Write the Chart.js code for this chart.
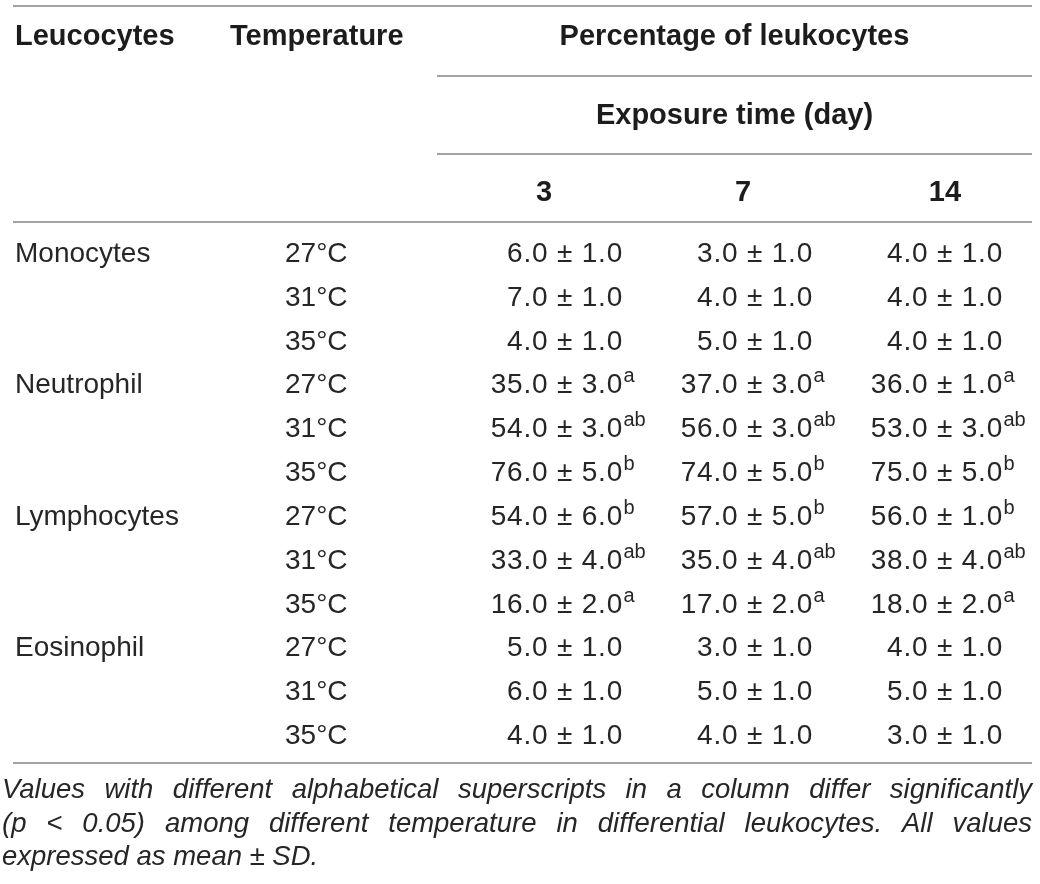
<!DOCTYPE html>
<html>
<head>
<meta charset="utf-8">
<script src="https://cdn.jsdelivr.net/npm/chart.js@4.4.1/dist/chart.umd.min.js"></script>
<style>
  html, body { margin: 0; padding: 0; background: #fff; }
  #wrap { width: 1040px; height: 884px; }
</style>
</head>
<body>
<div id="wrap"><canvas id="leukoTable" width="1040" height="884"></canvas></div>
<script>
// row groups and column categories
const leucocytes = ['Monocytes', 'Neutrophil', 'Lymphocytes', 'Eosinophil'];
const temperatures = ['27°C', '31°C', '35°C'];
const days = ['3', '7', '14'];

// mean percentage, one array per exposure day (rows: cell type x temperature)
const meanDay3  = [6.0, 7.0, 4.0, 35.0, 54.0, 76.0, 54.0, 33.0, 16.0, 5.0, 6.0, 4.0];
const meanDay7  = [3.0, 4.0, 5.0, 37.0, 56.0, 74.0, 57.0, 35.0, 17.0, 3.0, 5.0, 4.0];
const meanDay14 = [4.0, 4.0, 4.0, 36.0, 53.0, 75.0, 56.0, 38.0, 18.0, 4.0, 5.0, 3.0];

// standard deviations
const sdDay3  = [1.0, 1.0, 1.0, 3.0, 3.0, 5.0, 6.0, 4.0, 2.0, 1.0, 1.0, 1.0];
const sdDay7  = [1.0, 1.0, 1.0, 3.0, 3.0, 5.0, 5.0, 4.0, 2.0, 1.0, 1.0, 1.0];
const sdDay14 = [1.0, 1.0, 1.0, 1.0, 3.0, 5.0, 1.0, 4.0, 2.0, 1.0, 1.0, 1.0];

// significance letters
const supDay3  = ['', '', '', 'a', 'ab', 'b', 'b', 'ab', 'a', '', '', ''];
const supDay7  = ['', '', '', 'a', 'ab', 'b', 'b', 'ab', 'a', '', '', ''];
const supDay14 = ['', '', '', 'a', 'ab', 'b', 'b', 'ab', 'a', '', '', ''];

const headLeucocytes = 'Leucocytes';
const headTemperature = 'Temperature';
const headPercentage = 'Percentage of leukocytes';
const headExposure = 'Exposure time (day)';
const footnoteLines = [
    'Values with different alphabetical superscripts in a column differ significantly',
    '(p < 0.05) among different temperature in differential leukocytes. All values',
    'expressed as mean ± SD.'
];

const means = [meanDay3, meanDay7, meanDay14];
const sds = [sdDay3, sdDay7, sdDay14];
const sups = [supDay3, supDay7, supDay14];

const rowKeys = [];
leucocytes.forEach(cell => temperatures.forEach(t => rowKeys.push(cell + ' ' + t)));

// layout / style (not data)
const FONT = '"Liberation Sans", Arial, Helvetica, sans-serif';
const TEXT = '#262626';
const RULE = '#a3a3a3';
const L = {
    groupX: 15, tempX: 285, tempHeadX: 230,
    ruleLeft: 13, subRuleLeft: 437, ruleRight: 1032,
    rulesFull: [6, 222, 763], rulesSub: [76, 154],
    head1Y: 45, head2Y: 124, head3Y: 201,
    dayHeadShift: [-79, -70, -58],
    footLeft: 2, footRight: 1032, footY: [798, 831.5, 865]
};

function drawJustified(ctx, text, left, right, y, justify) {
    ctx.textAlign = 'left';
    if (!justify) { ctx.fillText(text, left, y); return; }
    const words = text.split(' ');
    const widths = words.map(w => ctx.measureText(w).width);
    const total = widths.reduce((a, b) => a + b, 0);
    const gap = (right - left - total) / (words.length - 1);
    let x = left;
    words.forEach((w, i) => { ctx.fillText(w, x, y); x += widths[i] + gap; });
}

const tablePlugin = {
    id: 'tableText',
    afterDraw(chart) {
        const ctx = chart.ctx;
        const xs = chart.scales.x;
        const ys = chart.scales.y;
        ctx.save();

        // rules
        ctx.strokeStyle = RULE;
        ctx.lineWidth = 2;
        L.rulesFull.forEach(y => {
            ctx.beginPath(); ctx.moveTo(L.ruleLeft, y); ctx.lineTo(L.ruleRight, y); ctx.stroke();
        });
        L.rulesSub.forEach(y => {
            ctx.beginPath(); ctx.moveTo(L.subRuleLeft, y); ctx.lineTo(L.ruleRight, y); ctx.stroke();
        });

        // header
        ctx.fillStyle = '#1c1c1c';
        ctx.font = 'bold 29px ' + FONT;
        ctx.textBaseline = 'alphabetic';
        ctx.textAlign = 'left';
        ctx.fillText(headLeucocytes, L.groupX, L.head1Y);
        ctx.fillText(headTemperature, L.tempHeadX, L.head1Y);
        const midX = (L.subRuleLeft + L.ruleRight) / 2;
        ctx.textAlign = 'center';
        ctx.fillText(headPercentage, midX, L.head1Y);
        ctx.fillText(headExposure, midX, L.head2Y);
        days.forEach((d, j) => {
            ctx.fillText(d, xs.getPixelForValue(j) + L.dayHeadShift[j], L.head3Y);
        });

        // row labels
        ctx.fillStyle = TEXT;
        ctx.font = '28px ' + FONT;
        ctx.textAlign = 'left';
        rowKeys.forEach((k, i) => {
            const y = ys.getPixelForValue(i);
            if (i % temperatures.length === 0) {
                ctx.fillText(leucocytes[i / temperatures.length], L.groupX, y);
            }
            ctx.fillText(temperatures[i % temperatures.length], L.tempX, y);
        });

        // cells
        chart.data.datasets.forEach((ds, j) => {
            const meta = chart.getDatasetMeta(j);
            meta.data.forEach((el, i) => {
                const cell = ds.data[i];
                ctx.font = '28px ' + FONT;
                ctx.letterSpacing = '0.8px';
                ctx.textAlign = 'right';
                ctx.fillText(cell.mean.toFixed(1) + ' ± ' + cell.sd.toFixed(1), el.x, el.y);
                ctx.letterSpacing = '0px';
                if (cell.sup) {
                    ctx.font = '20px ' + FONT;
                    ctx.textAlign = 'left';
                    ctx.fillText(cell.sup, el.x + 0.5, el.y - 11);
                }
            });
        });

        // footnote
        ctx.font = 'italic 27.5px ' + FONT;
        ctx.fillStyle = TEXT;
        footnoteLines.forEach((line, i) => {
            drawJustified(ctx, line, L.footLeft, L.footRight, L.footY[i], i < footnoteLines.length - 1);
        });

        ctx.restore();
    }
};

new Chart(document.getElementById('leukoTable').getContext('2d'), {
    type: 'scatter',
    data: {
        datasets: days.map((d, j) => ({
            label: 'Day ' + d,
            data: rowKeys.map((k, i) => ({ x: d, y: k, mean: means[j][i], sd: sds[j][i], sup: sups[j][i] })),
            pointRadius: 0,
            pointHoverRadius: 0
        }))
    },
    options: {
        responsive: false,
        animation: false,
        events: [],
        layout: { padding: { left: 623, right: 37, top: 262, bottom: 140 } },
        plugins: { legend: { display: false }, tooltip: { enabled: false } },
        scales: {
            x: { type: 'category', labels: days, display: false },
            y: { type: 'category', labels: rowKeys, display: false }
        }
    },
    plugins: [tablePlugin]
});
</script>
</body>
</html>
